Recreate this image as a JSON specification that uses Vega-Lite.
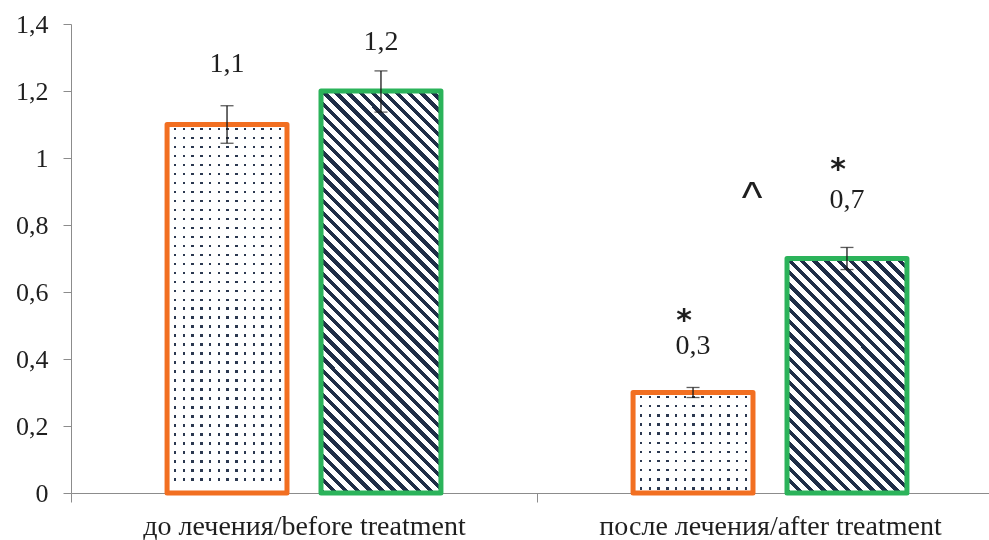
{
  "$schema": "https://vega.github.io/schema/vega-lite/v6.json",
  "width": 918,
  "height": 469,
  "autosize": {"type": "none"},
  "padding": {"left": 71, "top": 24, "right": 0, "bottom": 47},
  "background": "white",
  "config": {
    "view": {"stroke": null},
    "axis": {"grid": false, "domainColor": "#8c8c8c", "tickColor": "#8c8c8c", "labelColor": "#1f1f1f", "labelFont": "Liberation Serif", "title": null}
  },
  "datasets": {
    "bars": [
      {"group": "до лечения/before treatment", "series": "A", "value": 1.1, "lo": 1.044, "hi": 1.156},
      {"group": "до лечения/before treatment", "series": "B", "value": 1.2, "lo": 1.137, "hi": 1.26},
      {"group": "после лечения/after treatment", "series": "A", "value": 0.3, "lo": 0.285, "hi": 0.315},
      {"group": "после лечения/after treatment", "series": "B", "value": 0.7, "lo": 0.667, "hi": 0.733}
    ],
    "labels": [
      {"group": "до лечения/before treatment", "series": "A", "text": "1,1", "ty": 1.257},
      {"group": "до лечения/before treatment", "series": "B", "text": "1,2", "ty": 1.322},
      {"group": "после лечения/after treatment", "series": "A", "text": "0,3", "ty": 0.415},
      {"group": "после лечения/after treatment", "series": "B", "text": "0,7", "ty": 0.851}
    ],
    "stars": [
      {"group": "после лечения/after treatment", "series": "A", "text": "*", "ty": 0.487},
      {"group": "после лечения/after treatment", "series": "B", "text": "*", "ty": 0.937}
    ],
    "caret": [
      {"group": "после лечения/after treatment", "text": "^", "ty": 0.837}
    ]
  },
  "encoding": {
    "x": {
      "field": "group", "type": "nominal",
      "scale": {"domain": ["до лечения/before treatment", "после лечения/after treatment"], "range": [0, 932], "paddingInner": 0, "paddingOuter": 0},
      "axis": {"title": null, "tickBand": "extent", "tickSize": 9, "labelFontSize": 28, "labelPadding": 10, "labelAngle": 0, "labelLimit": 0, "labelColor": "#1f1f1f"}
    }
  },
  "layer": [
    {
      "data": {"name": "bars"},
      "transform": [{"filter": "datum.series == 'A'"}],
      "mark": {"type": "bar", "fill": {"gradient": "linear", "x1": 0, "y1": 0, "x2": 1, "y2": 0, "stops": [
        {"offset": 0, "color": "#fff"},
        {"offset": 0.05625, "color": "#fff"}, {"offset": 0.05625, "color": "#2b3850"}, {"offset": 0.07708, "color": "#2b3850"}, {"offset": 0.07708, "color": "#fff"},
        {"offset": 0.12917, "color": "#fff"}, {"offset": 0.12917, "color": "#2b3850"}, {"offset": 0.15, "color": "#2b3850"}, {"offset": 0.15, "color": "#fff"},
        {"offset": 0.20208, "color": "#fff"}, {"offset": 0.20208, "color": "#2b3850"}, {"offset": 0.22292, "color": "#2b3850"}, {"offset": 0.22292, "color": "#fff"},
        {"offset": 0.275, "color": "#fff"}, {"offset": 0.275, "color": "#2b3850"}, {"offset": 0.29583, "color": "#2b3850"}, {"offset": 0.29583, "color": "#fff"},
        {"offset": 0.34792, "color": "#fff"}, {"offset": 0.34792, "color": "#2b3850"}, {"offset": 0.36875, "color": "#2b3850"}, {"offset": 0.36875, "color": "#fff"},
        {"offset": 0.42083, "color": "#fff"}, {"offset": 0.42083, "color": "#2b3850"}, {"offset": 0.44167, "color": "#2b3850"}, {"offset": 0.44167, "color": "#fff"},
        {"offset": 0.49375, "color": "#fff"}, {"offset": 0.49375, "color": "#2b3850"}, {"offset": 0.51458, "color": "#2b3850"}, {"offset": 0.51458, "color": "#fff"},
        {"offset": 0.56667, "color": "#fff"}, {"offset": 0.56667, "color": "#2b3850"}, {"offset": 0.5875, "color": "#2b3850"}, {"offset": 0.5875, "color": "#fff"},
        {"offset": 0.63958, "color": "#fff"}, {"offset": 0.63958, "color": "#2b3850"}, {"offset": 0.66042, "color": "#2b3850"}, {"offset": 0.66042, "color": "#fff"},
        {"offset": 0.7125, "color": "#fff"}, {"offset": 0.7125, "color": "#2b3850"}, {"offset": 0.73333, "color": "#2b3850"}, {"offset": 0.73333, "color": "#fff"},
        {"offset": 0.78542, "color": "#fff"}, {"offset": 0.78542, "color": "#2b3850"}, {"offset": 0.80625, "color": "#2b3850"}, {"offset": 0.80625, "color": "#fff"},
        {"offset": 0.85833, "color": "#fff"}, {"offset": 0.85833, "color": "#2b3850"}, {"offset": 0.87917, "color": "#2b3850"}, {"offset": 0.87917, "color": "#fff"},
        {"offset": 0.93125, "color": "#fff"}, {"offset": 0.93125, "color": "#2b3850"}, {"offset": 0.95208, "color": "#2b3850"}, {"offset": 0.95208, "color": "#fff"},
        {"offset": 1, "color": "#fff"}
      ]}},
      "encoding": {
        "xOffset": {"field": "series", "type": "nominal", "scale": {"domain": ["A", "B"], "paddingInner": 0.221, "paddingOuter": 0.624}},
        "y": {"field": "value", "type": "quantitative", "scale": {"domain": [0, 1.4], "nice": false},
              "axis": {"title": null, "values": [0, 0.2, 0.4, 0.6, 0.8, 1, 1.2, 1.4], "labelExpr": "replace(format(datum.value, '~g'), '.', ',')", "tickSize": 8, "labelPadding": 15, "labelFontSize": 26}}
      }
    },
    {
      "data": {"name": "bars"},
      "transform": [{"filter": "datum.series == 'A' && datum.group == 'до лечения/before treatment'"}],
      "mark": {"type": "bar", "blend": "lighten", "fill": {"gradient": "linear", "x1": 0, "y1": 0, "x2": 0, "y2": 1, "stops": [
        {"offset": 0, "color": "#fff"},
        {"offset": 0.0088, "color": "#fff"}, {"offset": 0.0088, "color": "#2b3850"}, {"offset": 0.0156, "color": "#2b3850"}, {"offset": 0.0156, "color": "#fff"},
        {"offset": 0.0332, "color": "#fff"}, {"offset": 0.0332, "color": "#2b3850"}, {"offset": 0.04, "color": "#2b3850"}, {"offset": 0.04, "color": "#fff"},
        {"offset": 0.0576, "color": "#fff"}, {"offset": 0.0576, "color": "#2b3850"}, {"offset": 0.0644, "color": "#2b3850"}, {"offset": 0.0644, "color": "#fff"},
        {"offset": 0.082, "color": "#fff"}, {"offset": 0.082, "color": "#2b3850"}, {"offset": 0.0888, "color": "#2b3850"}, {"offset": 0.0888, "color": "#fff"},
        {"offset": 0.1064, "color": "#fff"}, {"offset": 0.1064, "color": "#2b3850"}, {"offset": 0.1132, "color": "#2b3850"}, {"offset": 0.1132, "color": "#fff"},
        {"offset": 0.1307, "color": "#fff"}, {"offset": 0.1307, "color": "#2b3850"}, {"offset": 0.1375, "color": "#2b3850"}, {"offset": 0.1375, "color": "#fff"},
        {"offset": 0.1551, "color": "#fff"}, {"offset": 0.1551, "color": "#2b3850"}, {"offset": 0.1619, "color": "#2b3850"}, {"offset": 0.1619, "color": "#fff"},
        {"offset": 0.1795, "color": "#fff"}, {"offset": 0.1795, "color": "#2b3850"}, {"offset": 0.1863, "color": "#2b3850"}, {"offset": 0.1863, "color": "#fff"},
        {"offset": 0.2039, "color": "#fff"}, {"offset": 0.2039, "color": "#2b3850"}, {"offset": 0.2107, "color": "#2b3850"}, {"offset": 0.2107, "color": "#fff"},
        {"offset": 0.2283, "color": "#fff"}, {"offset": 0.2283, "color": "#2b3850"}, {"offset": 0.2351, "color": "#2b3850"}, {"offset": 0.2351, "color": "#fff"},
        {"offset": 0.2527, "color": "#fff"}, {"offset": 0.2527, "color": "#2b3850"}, {"offset": 0.2595, "color": "#2b3850"}, {"offset": 0.2595, "color": "#fff"},
        {"offset": 0.2771, "color": "#fff"}, {"offset": 0.2771, "color": "#2b3850"}, {"offset": 0.2839, "color": "#2b3850"}, {"offset": 0.2839, "color": "#fff"},
        {"offset": 0.3015, "color": "#fff"}, {"offset": 0.3015, "color": "#2b3850"}, {"offset": 0.3083, "color": "#2b3850"}, {"offset": 0.3083, "color": "#fff"},
        {"offset": 0.3259, "color": "#fff"}, {"offset": 0.3259, "color": "#2b3850"}, {"offset": 0.3327, "color": "#2b3850"}, {"offset": 0.3327, "color": "#fff"},
        {"offset": 0.3503, "color": "#fff"}, {"offset": 0.3503, "color": "#2b3850"}, {"offset": 0.3571, "color": "#2b3850"}, {"offset": 0.3571, "color": "#fff"},
        {"offset": 0.3746, "color": "#fff"}, {"offset": 0.3746, "color": "#2b3850"}, {"offset": 0.3814, "color": "#2b3850"}, {"offset": 0.3814, "color": "#fff"},
        {"offset": 0.399, "color": "#fff"}, {"offset": 0.399, "color": "#2b3850"}, {"offset": 0.4058, "color": "#2b3850"}, {"offset": 0.4058, "color": "#fff"},
        {"offset": 0.4234, "color": "#fff"}, {"offset": 0.4234, "color": "#2b3850"}, {"offset": 0.4302, "color": "#2b3850"}, {"offset": 0.4302, "color": "#fff"},
        {"offset": 0.4478, "color": "#fff"}, {"offset": 0.4478, "color": "#2b3850"}, {"offset": 0.4546, "color": "#2b3850"}, {"offset": 0.4546, "color": "#fff"},
        {"offset": 0.4722, "color": "#fff"}, {"offset": 0.4722, "color": "#2b3850"}, {"offset": 0.479, "color": "#2b3850"}, {"offset": 0.479, "color": "#fff"},
        {"offset": 0.4966, "color": "#fff"}, {"offset": 0.4966, "color": "#2b3850"}, {"offset": 0.5034, "color": "#2b3850"}, {"offset": 0.5034, "color": "#fff"},
        {"offset": 0.521, "color": "#fff"}, {"offset": 0.521, "color": "#2b3850"}, {"offset": 0.5278, "color": "#2b3850"}, {"offset": 0.5278, "color": "#fff"},
        {"offset": 0.5454, "color": "#fff"}, {"offset": 0.5454, "color": "#2b3850"}, {"offset": 0.5522, "color": "#2b3850"}, {"offset": 0.5522, "color": "#fff"},
        {"offset": 0.5698, "color": "#fff"}, {"offset": 0.5698, "color": "#2b3850"}, {"offset": 0.5766, "color": "#2b3850"}, {"offset": 0.5766, "color": "#fff"},
        {"offset": 0.5942, "color": "#fff"}, {"offset": 0.5942, "color": "#2b3850"}, {"offset": 0.601, "color": "#2b3850"}, {"offset": 0.601, "color": "#fff"},
        {"offset": 0.6185, "color": "#fff"}, {"offset": 0.6185, "color": "#2b3850"}, {"offset": 0.6253, "color": "#2b3850"}, {"offset": 0.6253, "color": "#fff"},
        {"offset": 0.6429, "color": "#fff"}, {"offset": 0.6429, "color": "#2b3850"}, {"offset": 0.6497, "color": "#2b3850"}, {"offset": 0.6497, "color": "#fff"},
        {"offset": 0.6673, "color": "#fff"}, {"offset": 0.6673, "color": "#2b3850"}, {"offset": 0.6741, "color": "#2b3850"}, {"offset": 0.6741, "color": "#fff"},
        {"offset": 0.6917, "color": "#fff"}, {"offset": 0.6917, "color": "#2b3850"}, {"offset": 0.6985, "color": "#2b3850"}, {"offset": 0.6985, "color": "#fff"},
        {"offset": 0.7161, "color": "#fff"}, {"offset": 0.7161, "color": "#2b3850"}, {"offset": 0.7229, "color": "#2b3850"}, {"offset": 0.7229, "color": "#fff"},
        {"offset": 0.7405, "color": "#fff"}, {"offset": 0.7405, "color": "#2b3850"}, {"offset": 0.7473, "color": "#2b3850"}, {"offset": 0.7473, "color": "#fff"},
        {"offset": 0.7649, "color": "#fff"}, {"offset": 0.7649, "color": "#2b3850"}, {"offset": 0.7717, "color": "#2b3850"}, {"offset": 0.7717, "color": "#fff"},
        {"offset": 0.7893, "color": "#fff"}, {"offset": 0.7893, "color": "#2b3850"}, {"offset": 0.7961, "color": "#2b3850"}, {"offset": 0.7961, "color": "#fff"},
        {"offset": 0.8137, "color": "#fff"}, {"offset": 0.8137, "color": "#2b3850"}, {"offset": 0.8205, "color": "#2b3850"}, {"offset": 0.8205, "color": "#fff"},
        {"offset": 0.8381, "color": "#fff"}, {"offset": 0.8381, "color": "#2b3850"}, {"offset": 0.8449, "color": "#2b3850"}, {"offset": 0.8449, "color": "#fff"},
        {"offset": 0.8625, "color": "#fff"}, {"offset": 0.8625, "color": "#2b3850"}, {"offset": 0.8693, "color": "#2b3850"}, {"offset": 0.8693, "color": "#fff"},
        {"offset": 0.8868, "color": "#fff"}, {"offset": 0.8868, "color": "#2b3850"}, {"offset": 0.8936, "color": "#2b3850"}, {"offset": 0.8936, "color": "#fff"},
        {"offset": 0.9112, "color": "#fff"}, {"offset": 0.9112, "color": "#2b3850"}, {"offset": 0.918, "color": "#2b3850"}, {"offset": 0.918, "color": "#fff"},
        {"offset": 0.9356, "color": "#fff"}, {"offset": 0.9356, "color": "#2b3850"}, {"offset": 0.9424, "color": "#2b3850"}, {"offset": 0.9424, "color": "#fff"},
        {"offset": 0.96, "color": "#fff"}, {"offset": 0.96, "color": "#2b3850"}, {"offset": 0.9668, "color": "#2b3850"}, {"offset": 0.9668, "color": "#fff"},
        {"offset": 1, "color": "#fff"}
      ]}},
      "encoding": {
        "xOffset": {"field": "series", "type": "nominal", "scale": {"domain": ["A", "B"]}},
        "y": {"field": "value", "type": "quantitative"}
      }
    },
    {
      "data": {"name": "bars"},
      "transform": [{"filter": "datum.series == 'A' && datum.group == 'после лечения/after treatment'"}],
      "mark": {"type": "bar", "blend": "lighten", "fill": {"gradient": "linear", "x1": 0, "y1": 0, "x2": 0, "y2": 1, "stops": [
        {"offset": 0, "color": "#fff"},
        {"offset": 0.033, "color": "#fff"}, {"offset": 0.033, "color": "#2b3850"}, {"offset": 0.0579, "color": "#2b3850"}, {"offset": 0.0579, "color": "#fff"},
        {"offset": 0.1239, "color": "#fff"}, {"offset": 0.1239, "color": "#2b3850"}, {"offset": 0.1488, "color": "#2b3850"}, {"offset": 0.1488, "color": "#fff"},
        {"offset": 0.2148, "color": "#fff"}, {"offset": 0.2148, "color": "#2b3850"}, {"offset": 0.2397, "color": "#2b3850"}, {"offset": 0.2397, "color": "#fff"},
        {"offset": 0.3057, "color": "#fff"}, {"offset": 0.3057, "color": "#2b3850"}, {"offset": 0.3306, "color": "#2b3850"}, {"offset": 0.3306, "color": "#fff"},
        {"offset": 0.3966, "color": "#fff"}, {"offset": 0.3966, "color": "#2b3850"}, {"offset": 0.4215, "color": "#2b3850"}, {"offset": 0.4215, "color": "#fff"},
        {"offset": 0.4876, "color": "#fff"}, {"offset": 0.4876, "color": "#2b3850"}, {"offset": 0.5124, "color": "#2b3850"}, {"offset": 0.5124, "color": "#fff"},
        {"offset": 0.5785, "color": "#fff"}, {"offset": 0.5785, "color": "#2b3850"}, {"offset": 0.6033, "color": "#2b3850"}, {"offset": 0.6033, "color": "#fff"},
        {"offset": 0.6694, "color": "#fff"}, {"offset": 0.6694, "color": "#2b3850"}, {"offset": 0.6942, "color": "#2b3850"}, {"offset": 0.6942, "color": "#fff"},
        {"offset": 0.7603, "color": "#fff"}, {"offset": 0.7603, "color": "#2b3850"}, {"offset": 0.7852, "color": "#2b3850"}, {"offset": 0.7852, "color": "#fff"},
        {"offset": 0.8512, "color": "#fff"}, {"offset": 0.8512, "color": "#2b3850"}, {"offset": 0.8761, "color": "#2b3850"}, {"offset": 0.8761, "color": "#fff"},
        {"offset": 0.9421, "color": "#fff"}, {"offset": 0.9421, "color": "#2b3850"}, {"offset": 0.967, "color": "#2b3850"}, {"offset": 0.967, "color": "#fff"},
        {"offset": 1, "color": "#fff"}
      ]}},
      "encoding": {
        "xOffset": {"field": "series", "type": "nominal", "scale": {"domain": ["A", "B"]}},
        "y": {"field": "value", "type": "quantitative"}
      }
    },
    {
      "data": {"name": "bars"},
      "transform": [{"filter": "datum.series == 'A'"}],
      "mark": {"type": "bar", "fill": "transparent", "stroke": "#f26f21", "strokeWidth": 5, "strokeJoin": "round"},
      "encoding": {
        "xOffset": {"field": "series", "type": "nominal", "scale": {"domain": ["A", "B"]}},
        "y": {"field": "value", "type": "quantitative"}
      }
    },
    {
      "data": {"name": "bars"},
      "transform": [{"filter": "datum.series == 'B' && datum.group == 'до лечения/before treatment'"}],
      "mark": {"type": "bar", "stroke": "#2bb35a", "strokeWidth": 5, "strokeJoin": "round", "fill": {"gradient": "linear", "x1": 0, "y1": 1, "x2": 0.3559, "y2": -0.19226, "stops": [
        {"offset": 0, "color": "#1f2e47"}, {"offset": 0.01047, "color": "#1f2e47"}, {"offset": 0.01047, "color": "#fff"},
        {"offset": 0.02326, "color": "#fff"}, {"offset": 0.02326, "color": "#1f2e47"}, {"offset": 0.03373, "color": "#1f2e47"}, {"offset": 0.03373, "color": "#fff"},
        {"offset": 0.04651, "color": "#fff"}, {"offset": 0.04651, "color": "#1f2e47"}, {"offset": 0.05698, "color": "#1f2e47"}, {"offset": 0.05698, "color": "#fff"},
        {"offset": 0.06977, "color": "#fff"}, {"offset": 0.06977, "color": "#1f2e47"}, {"offset": 0.08024, "color": "#1f2e47"}, {"offset": 0.08024, "color": "#fff"},
        {"offset": 0.09302, "color": "#fff"}, {"offset": 0.09302, "color": "#1f2e47"}, {"offset": 0.10349, "color": "#1f2e47"}, {"offset": 0.10349, "color": "#fff"},
        {"offset": 0.11628, "color": "#fff"}, {"offset": 0.11628, "color": "#1f2e47"}, {"offset": 0.12675, "color": "#1f2e47"}, {"offset": 0.12675, "color": "#fff"},
        {"offset": 0.13953, "color": "#fff"}, {"offset": 0.13953, "color": "#1f2e47"}, {"offset": 0.15, "color": "#1f2e47"}, {"offset": 0.15, "color": "#fff"},
        {"offset": 0.16279, "color": "#fff"}, {"offset": 0.16279, "color": "#1f2e47"}, {"offset": 0.17326, "color": "#1f2e47"}, {"offset": 0.17326, "color": "#fff"},
        {"offset": 0.18605, "color": "#fff"}, {"offset": 0.18605, "color": "#1f2e47"}, {"offset": 0.19652, "color": "#1f2e47"}, {"offset": 0.19652, "color": "#fff"},
        {"offset": 0.2093, "color": "#fff"}, {"offset": 0.2093, "color": "#1f2e47"}, {"offset": 0.21977, "color": "#1f2e47"}, {"offset": 0.21977, "color": "#fff"},
        {"offset": 0.23256, "color": "#fff"}, {"offset": 0.23256, "color": "#1f2e47"}, {"offset": 0.24303, "color": "#1f2e47"}, {"offset": 0.24303, "color": "#fff"},
        {"offset": 0.25581, "color": "#fff"}, {"offset": 0.25581, "color": "#1f2e47"}, {"offset": 0.26628, "color": "#1f2e47"}, {"offset": 0.26628, "color": "#fff"},
        {"offset": 0.27907, "color": "#fff"}, {"offset": 0.27907, "color": "#1f2e47"}, {"offset": 0.28954, "color": "#1f2e47"}, {"offset": 0.28954, "color": "#fff"},
        {"offset": 0.30233, "color": "#fff"}, {"offset": 0.30233, "color": "#1f2e47"}, {"offset": 0.3128, "color": "#1f2e47"}, {"offset": 0.3128, "color": "#fff"},
        {"offset": 0.32558, "color": "#fff"}, {"offset": 0.32558, "color": "#1f2e47"}, {"offset": 0.33605, "color": "#1f2e47"}, {"offset": 0.33605, "color": "#fff"},
        {"offset": 0.34884, "color": "#fff"}, {"offset": 0.34884, "color": "#1f2e47"}, {"offset": 0.35931, "color": "#1f2e47"}, {"offset": 0.35931, "color": "#fff"},
        {"offset": 0.37209, "color": "#fff"}, {"offset": 0.37209, "color": "#1f2e47"}, {"offset": 0.38256, "color": "#1f2e47"}, {"offset": 0.38256, "color": "#fff"},
        {"offset": 0.39535, "color": "#fff"}, {"offset": 0.39535, "color": "#1f2e47"}, {"offset": 0.40582, "color": "#1f2e47"}, {"offset": 0.40582, "color": "#fff"},
        {"offset": 0.4186, "color": "#fff"}, {"offset": 0.4186, "color": "#1f2e47"}, {"offset": 0.42907, "color": "#1f2e47"}, {"offset": 0.42907, "color": "#fff"},
        {"offset": 0.44186, "color": "#fff"}, {"offset": 0.44186, "color": "#1f2e47"}, {"offset": 0.45233, "color": "#1f2e47"}, {"offset": 0.45233, "color": "#fff"},
        {"offset": 0.46512, "color": "#fff"}, {"offset": 0.46512, "color": "#1f2e47"}, {"offset": 0.47559, "color": "#1f2e47"}, {"offset": 0.47559, "color": "#fff"},
        {"offset": 0.48837, "color": "#fff"}, {"offset": 0.48837, "color": "#1f2e47"}, {"offset": 0.49884, "color": "#1f2e47"}, {"offset": 0.49884, "color": "#fff"},
        {"offset": 0.51163, "color": "#fff"}, {"offset": 0.51163, "color": "#1f2e47"}, {"offset": 0.5221, "color": "#1f2e47"}, {"offset": 0.5221, "color": "#fff"},
        {"offset": 0.53488, "color": "#fff"}, {"offset": 0.53488, "color": "#1f2e47"}, {"offset": 0.54535, "color": "#1f2e47"}, {"offset": 0.54535, "color": "#fff"},
        {"offset": 0.55814, "color": "#fff"}, {"offset": 0.55814, "color": "#1f2e47"}, {"offset": 0.56861, "color": "#1f2e47"}, {"offset": 0.56861, "color": "#fff"},
        {"offset": 0.5814, "color": "#fff"}, {"offset": 0.5814, "color": "#1f2e47"}, {"offset": 0.59187, "color": "#1f2e47"}, {"offset": 0.59187, "color": "#fff"},
        {"offset": 0.60465, "color": "#fff"}, {"offset": 0.60465, "color": "#1f2e47"}, {"offset": 0.61512, "color": "#1f2e47"}, {"offset": 0.61512, "color": "#fff"},
        {"offset": 0.62791, "color": "#fff"}, {"offset": 0.62791, "color": "#1f2e47"}, {"offset": 0.63838, "color": "#1f2e47"}, {"offset": 0.63838, "color": "#fff"},
        {"offset": 0.65116, "color": "#fff"}, {"offset": 0.65116, "color": "#1f2e47"}, {"offset": 0.66163, "color": "#1f2e47"}, {"offset": 0.66163, "color": "#fff"},
        {"offset": 0.67442, "color": "#fff"}, {"offset": 0.67442, "color": "#1f2e47"}, {"offset": 0.68489, "color": "#1f2e47"}, {"offset": 0.68489, "color": "#fff"},
        {"offset": 0.69767, "color": "#fff"}, {"offset": 0.69767, "color": "#1f2e47"}, {"offset": 0.70814, "color": "#1f2e47"}, {"offset": 0.70814, "color": "#fff"},
        {"offset": 0.72093, "color": "#fff"}, {"offset": 0.72093, "color": "#1f2e47"}, {"offset": 0.7314, "color": "#1f2e47"}, {"offset": 0.7314, "color": "#fff"},
        {"offset": 0.74419, "color": "#fff"}, {"offset": 0.74419, "color": "#1f2e47"}, {"offset": 0.75466, "color": "#1f2e47"}, {"offset": 0.75466, "color": "#fff"},
        {"offset": 0.76744, "color": "#fff"}, {"offset": 0.76744, "color": "#1f2e47"}, {"offset": 0.77791, "color": "#1f2e47"}, {"offset": 0.77791, "color": "#fff"},
        {"offset": 0.7907, "color": "#fff"}, {"offset": 0.7907, "color": "#1f2e47"}, {"offset": 0.80117, "color": "#1f2e47"}, {"offset": 0.80117, "color": "#fff"},
        {"offset": 0.81395, "color": "#fff"}, {"offset": 0.81395, "color": "#1f2e47"}, {"offset": 0.82442, "color": "#1f2e47"}, {"offset": 0.82442, "color": "#fff"},
        {"offset": 0.83721, "color": "#fff"}, {"offset": 0.83721, "color": "#1f2e47"}, {"offset": 0.84768, "color": "#1f2e47"}, {"offset": 0.84768, "color": "#fff"},
        {"offset": 0.86047, "color": "#fff"}, {"offset": 0.86047, "color": "#1f2e47"}, {"offset": 0.87094, "color": "#1f2e47"}, {"offset": 0.87094, "color": "#fff"},
        {"offset": 0.88372, "color": "#fff"}, {"offset": 0.88372, "color": "#1f2e47"}, {"offset": 0.89419, "color": "#1f2e47"}, {"offset": 0.89419, "color": "#fff"},
        {"offset": 0.90698, "color": "#fff"}, {"offset": 0.90698, "color": "#1f2e47"}, {"offset": 0.91745, "color": "#1f2e47"}, {"offset": 0.91745, "color": "#fff"},
        {"offset": 0.93023, "color": "#fff"}, {"offset": 0.93023, "color": "#1f2e47"}, {"offset": 0.9407, "color": "#1f2e47"}, {"offset": 0.9407, "color": "#fff"},
        {"offset": 0.95349, "color": "#fff"}, {"offset": 0.95349, "color": "#1f2e47"}, {"offset": 0.96396, "color": "#1f2e47"}, {"offset": 0.96396, "color": "#fff"},
        {"offset": 0.97674, "color": "#fff"}, {"offset": 0.97674, "color": "#1f2e47"}, {"offset": 0.98721, "color": "#1f2e47"}, {"offset": 0.98721, "color": "#fff"},
        {"offset": 1, "color": "#fff"}
      ]}},
      "encoding": {
        "xOffset": {"field": "series", "type": "nominal", "scale": {"domain": ["A", "B"]}},
        "y": {"field": "value", "type": "quantitative"}
      }
    },
    {
      "data": {"name": "bars"},
      "transform": [{"filter": "datum.series == 'B' && datum.group == 'после лечения/after treatment'"}],
      "mark": {"type": "bar", "stroke": "#2bb35a", "strokeWidth": 5, "strokeJoin": "round", "fill": {"gradient": "linear", "x1": 0, "y1": 1, "x2": 0.61306, "y2": -0.19801, "stops": [
        {"offset": 0, "color": "#1f2e47"}, {"offset": 0.01552, "color": "#1f2e47"}, {"offset": 0.01552, "color": "#fff"},
        {"offset": 0.03448, "color": "#fff"}, {"offset": 0.03448, "color": "#1f2e47"}, {"offset": 0.05, "color": "#1f2e47"}, {"offset": 0.05, "color": "#fff"},
        {"offset": 0.06897, "color": "#fff"}, {"offset": 0.06897, "color": "#1f2e47"}, {"offset": 0.08449, "color": "#1f2e47"}, {"offset": 0.08449, "color": "#fff"},
        {"offset": 0.10345, "color": "#fff"}, {"offset": 0.10345, "color": "#1f2e47"}, {"offset": 0.11897, "color": "#1f2e47"}, {"offset": 0.11897, "color": "#fff"},
        {"offset": 0.13793, "color": "#fff"}, {"offset": 0.13793, "color": "#1f2e47"}, {"offset": 0.15345, "color": "#1f2e47"}, {"offset": 0.15345, "color": "#fff"},
        {"offset": 0.17241, "color": "#fff"}, {"offset": 0.17241, "color": "#1f2e47"}, {"offset": 0.18793, "color": "#1f2e47"}, {"offset": 0.18793, "color": "#fff"},
        {"offset": 0.2069, "color": "#fff"}, {"offset": 0.2069, "color": "#1f2e47"}, {"offset": 0.22242, "color": "#1f2e47"}, {"offset": 0.22242, "color": "#fff"},
        {"offset": 0.24138, "color": "#fff"}, {"offset": 0.24138, "color": "#1f2e47"}, {"offset": 0.2569, "color": "#1f2e47"}, {"offset": 0.2569, "color": "#fff"},
        {"offset": 0.27586, "color": "#fff"}, {"offset": 0.27586, "color": "#1f2e47"}, {"offset": 0.29138, "color": "#1f2e47"}, {"offset": 0.29138, "color": "#fff"},
        {"offset": 0.31034, "color": "#fff"}, {"offset": 0.31034, "color": "#1f2e47"}, {"offset": 0.32586, "color": "#1f2e47"}, {"offset": 0.32586, "color": "#fff"},
        {"offset": 0.34483, "color": "#fff"}, {"offset": 0.34483, "color": "#1f2e47"}, {"offset": 0.36035, "color": "#1f2e47"}, {"offset": 0.36035, "color": "#fff"},
        {"offset": 0.37931, "color": "#fff"}, {"offset": 0.37931, "color": "#1f2e47"}, {"offset": 0.39483, "color": "#1f2e47"}, {"offset": 0.39483, "color": "#fff"},
        {"offset": 0.41379, "color": "#fff"}, {"offset": 0.41379, "color": "#1f2e47"}, {"offset": 0.42931, "color": "#1f2e47"}, {"offset": 0.42931, "color": "#fff"},
        {"offset": 0.44828, "color": "#fff"}, {"offset": 0.44828, "color": "#1f2e47"}, {"offset": 0.4638, "color": "#1f2e47"}, {"offset": 0.4638, "color": "#fff"},
        {"offset": 0.48276, "color": "#fff"}, {"offset": 0.48276, "color": "#1f2e47"}, {"offset": 0.49828, "color": "#1f2e47"}, {"offset": 0.49828, "color": "#fff"},
        {"offset": 0.51724, "color": "#fff"}, {"offset": 0.51724, "color": "#1f2e47"}, {"offset": 0.53276, "color": "#1f2e47"}, {"offset": 0.53276, "color": "#fff"},
        {"offset": 0.55172, "color": "#fff"}, {"offset": 0.55172, "color": "#1f2e47"}, {"offset": 0.56724, "color": "#1f2e47"}, {"offset": 0.56724, "color": "#fff"},
        {"offset": 0.58621, "color": "#fff"}, {"offset": 0.58621, "color": "#1f2e47"}, {"offset": 0.60173, "color": "#1f2e47"}, {"offset": 0.60173, "color": "#fff"},
        {"offset": 0.62069, "color": "#fff"}, {"offset": 0.62069, "color": "#1f2e47"}, {"offset": 0.63621, "color": "#1f2e47"}, {"offset": 0.63621, "color": "#fff"},
        {"offset": 0.65517, "color": "#fff"}, {"offset": 0.65517, "color": "#1f2e47"}, {"offset": 0.67069, "color": "#1f2e47"}, {"offset": 0.67069, "color": "#fff"},
        {"offset": 0.68966, "color": "#fff"}, {"offset": 0.68966, "color": "#1f2e47"}, {"offset": 0.70518, "color": "#1f2e47"}, {"offset": 0.70518, "color": "#fff"},
        {"offset": 0.72414, "color": "#fff"}, {"offset": 0.72414, "color": "#1f2e47"}, {"offset": 0.73966, "color": "#1f2e47"}, {"offset": 0.73966, "color": "#fff"},
        {"offset": 0.75862, "color": "#fff"}, {"offset": 0.75862, "color": "#1f2e47"}, {"offset": 0.77414, "color": "#1f2e47"}, {"offset": 0.77414, "color": "#fff"},
        {"offset": 0.7931, "color": "#fff"}, {"offset": 0.7931, "color": "#1f2e47"}, {"offset": 0.80862, "color": "#1f2e47"}, {"offset": 0.80862, "color": "#fff"},
        {"offset": 0.82759, "color": "#fff"}, {"offset": 0.82759, "color": "#1f2e47"}, {"offset": 0.84311, "color": "#1f2e47"}, {"offset": 0.84311, "color": "#fff"},
        {"offset": 0.86207, "color": "#fff"}, {"offset": 0.86207, "color": "#1f2e47"}, {"offset": 0.87759, "color": "#1f2e47"}, {"offset": 0.87759, "color": "#fff"},
        {"offset": 0.89655, "color": "#fff"}, {"offset": 0.89655, "color": "#1f2e47"}, {"offset": 0.91207, "color": "#1f2e47"}, {"offset": 0.91207, "color": "#fff"},
        {"offset": 0.93103, "color": "#fff"}, {"offset": 0.93103, "color": "#1f2e47"}, {"offset": 0.94655, "color": "#1f2e47"}, {"offset": 0.94655, "color": "#fff"},
        {"offset": 0.96552, "color": "#fff"}, {"offset": 0.96552, "color": "#1f2e47"}, {"offset": 0.98104, "color": "#1f2e47"}, {"offset": 0.98104, "color": "#fff"},
        {"offset": 1, "color": "#fff"}
      ]}},
      "encoding": {
        "xOffset": {"field": "series", "type": "nominal", "scale": {"domain": ["A", "B"]}},
        "y": {"field": "value", "type": "quantitative"}
      }
    },
    {
      "data": {"name": "bars"},
      "mark": {"type": "rule", "color": "#1a1a1a", "strokeWidth": 1.3},
      "encoding": {
        "xOffset": {"field": "series", "type": "nominal", "scale": {"domain": ["A", "B"]}},
        "y": {"field": "lo", "type": "quantitative"},
        "y2": {"field": "hi"}
      }
    },
    {
      "data": {"name": "bars"},
      "mark": {"type": "tick", "color": "#1a1a1a", "size": 13, "thickness": 1.3},
      "encoding": {
        "xOffset": {"field": "series", "type": "nominal", "scale": {"domain": ["A", "B"]}},
        "y": {"field": "lo", "type": "quantitative"}
      }
    },
    {
      "data": {"name": "bars"},
      "mark": {"type": "tick", "color": "#1a1a1a", "size": 13, "thickness": 1.3},
      "encoding": {
        "xOffset": {"field": "series", "type": "nominal", "scale": {"domain": ["A", "B"]}},
        "y": {"field": "hi", "type": "quantitative"}
      }
    },
    {
      "data": {"name": "labels"},
      "mark": {"type": "text", "font": "Liberation Serif", "fontSize": 28, "baseline": "alphabetic", "align": "center", "color": "#1f1f1f"},
      "encoding": {
        "xOffset": {"field": "series", "type": "nominal", "scale": {"domain": ["A", "B"]}},
        "y": {"field": "ty", "type": "quantitative"},
        "text": {"field": "text"}
      }
    },
    {
      "data": {"name": "stars"},
      "mark": {"type": "text", "font": "DejaVu Sans", "fontSize": 30, "fontWeight": "bold", "baseline": "alphabetic", "align": "center", "dx": -9, "color": "#1f1f1f"},
      "encoding": {
        "xOffset": {"field": "series", "type": "nominal", "scale": {"domain": ["A", "B"]}},
        "y": {"field": "ty", "type": "quantitative"},
        "text": {"field": "text"}
      }
    },
    {
      "data": {"name": "caret"},
      "mark": {"type": "text", "font": "Liberation Sans", "fontSize": 44, "baseline": "alphabetic", "align": "center", "dx": -18, "color": "#1f1f1f"},
      "encoding": {
        "y": {"field": "ty", "type": "quantitative"},
        "text": {"field": "text"}
      }
    }
  ]
}
